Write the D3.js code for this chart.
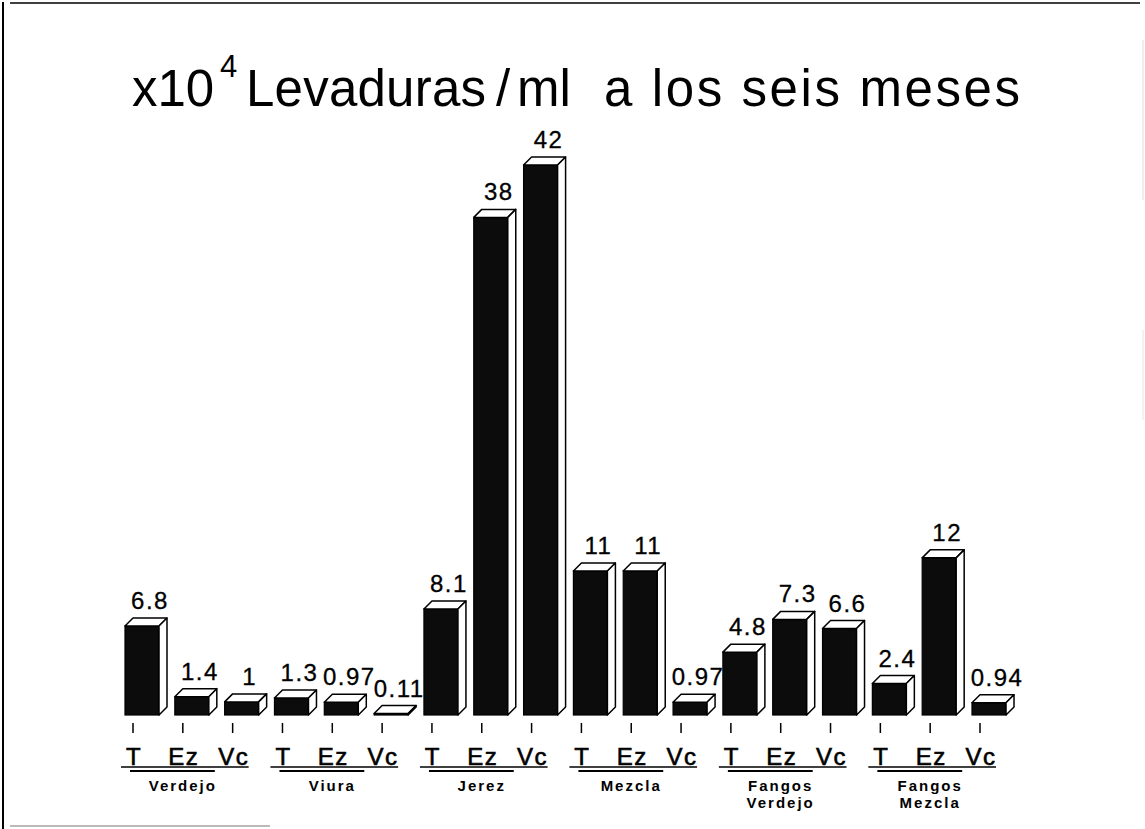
<!DOCTYPE html>
<html>
<head>
<meta charset="utf-8">
<script src="https://cdn.jsdelivr.net/npm/d3@7/dist/d3.min.js"></script>
<style>
  html, body { margin: 0; padding: 0; background: #fff; }
  svg { display: block; }
  text { font-family: "Liberation Sans", Arial, Helvetica, sans-serif; fill: #000; }
</style>
</head>
<body>
<svg id="chart" width="1145" height="829"></svg>
<script>
// Yeast counts (x10^4 per ml) after six months, per must and treatment
const groups = ["Verdejo", "Viura", "Jerez", "Mezcla", "Fangos\nVerdejo", "Fangos\nMezcla"];
const treatments = ["T", "Ez", "Vc"];
const values = [6.8, 1.4, 1, 1.3, 0.97, 0.11, 8.1, 38, 42, 11, 11, 0.97, 4.8, 7.3, 6.6, 2.4, 12, 0.94];
const valueLabels = ["6.8", "1.4", "1", "1.3", "0.97", "0.11", "8.1", "38", "42", "11", "11", "0.97", "4.8", "7.3", "6.6", "2.4", "12", "0.94"];

const svg = d3.select("#chart");

// frame
const frame = svg.append("g").attr("stroke", "#000").attr("fill", "none");
frame.append("line").attr("x1", 10).attr("y1", 3).attr("x2", 1140).attr("y2", 3).attr("stroke-width", 1.6);
frame.append("line").attr("x1", 3).attr("y1", 2).attr("x2", 3).attr("y2", 829).attr("stroke-width", 2);
frame.append("line").attr("x1", 10).attr("y1", 826).attr("x2", 270).attr("y2", 826).attr("stroke-width", 1.2).attr("stroke", "#777");
frame.append("line").attr("x1", 1143).attr("y1", 40).attr("x2", 1143).attr("y2", 200).attr("stroke-width", 1).attr("stroke", "#ddd");
frame.append("line").attr("x1", 1143).attr("y1", 330).attr("x2", 1143).attr("y2", 420).attr("stroke-width", 1).attr("stroke", "#e4e4e4");

// title
const title = svg.append("g").attr("font-size", 51);
title.append("text").attr("x", 132).attr("y", 106)
  .attr("textLength", 82).attr("lengthAdjust", "spacing").text("x10");
title.append("text").attr("x", 220).attr("y", 77).attr("font-size", 31).text("4");
title.append("text").attr("x", 246).attr("y", 106)
  .attr("textLength", 240).attr("lengthAdjust", "spacing").text("Levaduras");
title.append("text").attr("x", 496).attr("y", 106).text("/");
title.append("text").attr("x", 517).attr("y", 106).text("ml");
title.append("text").attr("x", 604).attr("y", 106)
  .attr("textLength", 416).attr("lengthAdjust", "spacing").text("a los seis meses");

// scales
const baseY = 715;
const x = d3.scalePoint().domain(d3.range(values.length)).range([133, 980]);
const y = d3.scaleLinear().domain([0, 42]).range([baseY, baseY - 550]);

const barW = 34, dx = 8, dy = 8, offset = 8;

const bars = svg.append("g").selectAll("g.bar").data(values).join("g").attr("class", "bar");

bars.each(function (v, i) {
  const g = d3.select(this);
  const x0 = x(i) - offset, x1 = x0 + barW;
  const yt = y(v);
  // front face
  g.append("rect").attr("x", x0).attr("y", yt).attr("width", barW).attr("height", baseY - yt)
    .attr("fill", "#0c0c0c").attr("stroke", "#000").attr("stroke-width", 1.2);
  // top face
  g.append("path")
    .attr("d", `M${x0},${yt}L${x0 + dx},${yt - dy}L${x1 + dx},${yt - dy}L${x1},${yt}Z`)
    .attr("fill", "#fff").attr("stroke", "#000").attr("stroke-width", 1.5).attr("stroke-linejoin", "round");
  // side face
  g.append("path")
    .attr("d", `M${x1},${yt}L${x1 + dx},${yt - dy}L${x1 + dx},${baseY - dy}L${x1},${baseY}Z`)
    .attr("fill", "#fff").attr("stroke", "#000").attr("stroke-width", 1.5).attr("stroke-linejoin", "round");
  // value label
  g.append("text").attr("x", x(i) + 17).attr("y", yt - dy - 9)
    .attr("text-anchor", "middle").attr("font-size", 24).attr("letter-spacing", 1.5)
    .attr("stroke", "#000").attr("stroke-width", 0.3)
    .text(valueLabels[i]);
});

// tick marks
svg.append("g").selectAll("line").data(values).join("line")
  .attr("x1", (d, i) => x(i)).attr("x2", (d, i) => x(i))
  .attr("y1", 723).attr("y2", 733)
  .attr("stroke", "#000").attr("stroke-width", 1.5);

// treatment labels
svg.append("g").selectAll("text").data(values).join("text")
  .attr("x", (d, i) => x(i) + 1).attr("y", 765)
  .attr("text-anchor", "middle").attr("font-size", 24).attr("letter-spacing", 1.5)
  .attr("stroke", "#000").attr("stroke-width", 0.6)
  .text((d, i) => treatments[i % 3]);

// group underlines and names
const grp = svg.append("g").selectAll("g").data(groups).join("g");
grp.append("line")
  .attr("x1", (d, j) => x(j * 3) - 12).attr("x2", (d, j) => x(j * 3 + 2) + 16)
  .attr("y1", 767).attr("y2", 767).attr("stroke", "#000").attr("stroke-width", 1.6);
grp.append("line")
  .attr("x1", (d, j) => x(j * 3) - 3).attr("x2", (d, j) => x(j * 3 + 1) + 32)
  .attr("y1", 771).attr("y2", 771).attr("stroke", "#000").attr("stroke-width", 2);
grp.each(function (d, j) {
  const lines = d.split("\n");
  const t = d3.select(this).append("text")
    .attr("x", x(j * 3 + 1)).attr("y", 791)
    .attr("text-anchor", "middle").attr("font-size", 15).attr("font-weight", "bold")
    .attr("letter-spacing", 2);
  lines.forEach((ln, k) => {
    t.append("tspan").attr("x", x(j * 3 + 1)).attr("dy", k === 0 ? 0 : 17).text(ln);
  });
});
</script>
</body>
</html>
